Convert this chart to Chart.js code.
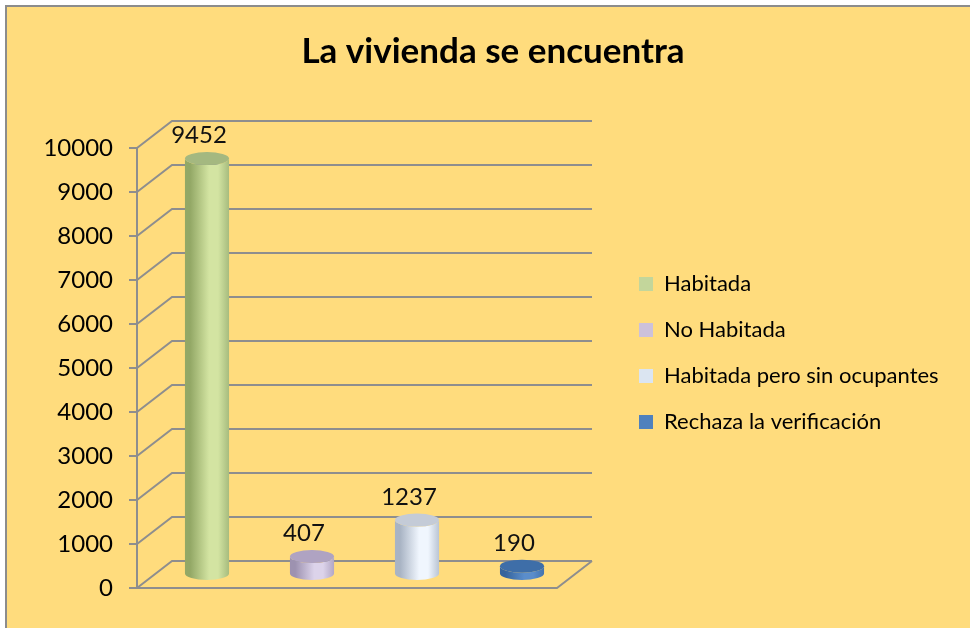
<!DOCTYPE html>
<html><head><meta charset="utf-8">
<script src="https://cdn.jsdelivr.net/npm/chart.js@4/dist/chart.umd.min.js"></script>
<style>
html,body{margin:0;padding:0;background:#fff;overflow:hidden;}
#bg{position:absolute;left:5px;top:5px;right:0;bottom:0;background:#FFDC7D;border-left:2px solid #8c8c8c;border-top:2px solid #8c8c8c;}
#wrap{position:absolute;left:0;top:0;width:970px;height:628px;}
</style></head><body>
<div id="bg"></div>
<div id="wrap"><canvas id="c" width="970" height="628"></canvas></div>
<script>
// ---- data ----
const categories = ['Habitada', 'No Habitada', 'Habitada pero sin ocupantes', 'Rechaza la verificación'];
const values = [9452, 407, 1237, 190];
const yMin = 0;
const yMax = 10000;
const yStep = 1000;
const titleText = 'La vivienda se encuentra';

// ---- style ----
const legendColors = ['#C3D69B', '#CCC1DA', '#DBE5F1', '#4F81BD'];
const leftEdge = ['#93A866', '#9D92B0', '#A9B4C4', '#35649C'];
const midColors = ['#D3E4A2', '#DCD3EA', '#F0F6FE', '#5A8DCB'];
const rightEdge = ['#A7BC7E', '#B2A7C5', '#BAC5D4', '#4373AE'];
const capColors = ['#A4B880', '#AFA3C2', '#C4CBD7', '#3E6EA8'];
const GRID = '#8E8E8E';
const DX = 35, DY = 27;
const PADL = 16, PADR = 0;
const LEGEND_W = 353;
const LEGEND_TOP = 100, LEGEND_BOTTOM = 606;

const threeD = {
  id: 'threeD',
  beforeLayout(chart) {
    const lg = chart.legend;
    if (lg && !lg.__wrapped) {
      const orig = lg.fit;
      lg.fit = function () { orig.call(this); this.width = LEGEND_W; };
      lg.__wrapped = true;
    }
  },
  afterLayout(chart) {
    const lg = chart.legend;
    if (lg) {
      lg.top = LEGEND_TOP; lg.bottom = LEGEND_BOTTOM; lg.height = LEGEND_BOTTOM - LEGEND_TOP;
      lg.left = lg.left - 2; lg.right = lg.left + LEGEND_W + 2; lg.width = LEGEND_W + 2;
    }
  },
  beforeDatasetsDraw(chart) {
    const {ctx, chartArea: a, scales: {y}} = chart;
    ctx.save();
    ctx.strokeStyle = GRID; ctx.lineWidth = 2;
    ctx.beginPath();
    y.ticks.forEach(t => {
      const py = y.getPixelForValue(t.value);
      ctx.moveTo(a.left, py); ctx.lineTo(a.left + DX, py - DY); ctx.lineTo(a.right + DX, py - DY);
    });
    ctx.moveTo(a.left, a.bottom); ctx.lineTo(a.right, a.bottom); ctx.lineTo(a.right + DX, a.bottom - DY);
    ctx.stroke();
    ctx.restore();
  },
  beforeDatasetDraw(chart, args) {
    const ctx = chart.ctx;
    ctx.save();
    args.meta.data.forEach((bar, i) => {
      const {x, y, base, width} = bar.getProps(['x', 'y', 'base', 'width']);
      const cx = x + DX / 2, top = y - DY / 2, bot = base - DY / 2, r = width / 2, ry = 6.5;
      const g = ctx.createLinearGradient(cx - r, 0, cx + r, 0);
      g.addColorStop(0, leftEdge[i]);
      g.addColorStop(0.12, leftEdge[i]);
      g.addColorStop(0.55, midColors[i]);
      g.addColorStop(0.75, midColors[i]);
      g.addColorStop(1, rightEdge[i]);
      ctx.fillStyle = g;
      ctx.beginPath();
      ctx.moveTo(cx - r, top);
      ctx.lineTo(cx - r, bot);
      ctx.ellipse(cx, bot, r, ry, 0, Math.PI, 0, true);
      ctx.lineTo(cx + r, top);
      ctx.ellipse(cx, top, r, ry, 0, 0, Math.PI, false);
      ctx.closePath();
      ctx.fill();
      ctx.fillStyle = capColors[i];
      ctx.beginPath();
      ctx.ellipse(cx, top, r, ry, 0, 0, Math.PI * 2);
      ctx.fill();
    });
    ctx.restore();
    return false;
  },
  afterDatasetsDraw(chart) {
    const ctx = chart.ctx;
    const meta = chart.getDatasetMeta(0);
    ctx.save();
    ctx.font = '24px Lato';
    ctx.fillStyle = '#111';
    ctx.textAlign = 'center';
    ctx.textBaseline = 'middle';
    meta.data.forEach((bar, i) => {
      const {x, y} = bar.getProps(['x', 'y']);
      ctx.fillText(String(values[i]), x + DX / 2 - 8, y - DY / 2 - 23);
    });
    ctx.restore();
  }
};

new Chart(document.getElementById('c'), {
  type: 'bar',
  data: {
    labels: categories,
    datasets: [{ data: values, backgroundColor: legendColors, barPercentage: 0.42, categoryPercentage: 1 }]
  },
  plugins: [threeD],
  options: {
    responsive: false,
    animation: false,
    layout: { padding: { left: PADL, right: PADR, top: 0, bottom: 40 } },
    plugins: {
      title: { display: true, text: titleText, color: '#000',
        font: { family: 'Lato', size: 35, weight: 'bold' }, padding: { top: 31, bottom: 75 } },
      legend: {
        position: 'right',
        labels: {
          font: { family: 'Lato', size: 22 }, color: '#000',
          boxWidth: 14, boxHeight: 14, padding: 24,
          generateLabels: () => categories.map((c, i) => ({
            text: c, fillStyle: legendColors[i], strokeStyle: legendColors[i], lineWidth: 0, hidden: false, index: i
          }))
        }
      },
      tooltip: { enabled: false }
    },
    scales: {
      x: { display: false },
      y: {
        min: yMin, max: yMax,
        ticks: { stepSize: yStep, font: { family: 'Lato', size: 24 }, color: '#000', padding: 16,
          callback: v => String(v) },
        grid: { drawOnChartArea: false, drawTicks: true, tickLength: 8, color: GRID, lineWidth: 2 },
        border: { color: GRID, width: 2 },
        afterFit(s) { s.width = 137 - PADL; }
      },
      y2: {
        type: 'linear', position: 'right', display: true,
        grid: { display: false }, ticks: { display: false }, border: { display: false },
        afterFit(s) { s.width = 60; }
      }
    }
  }
});
</script>
</body></html>
